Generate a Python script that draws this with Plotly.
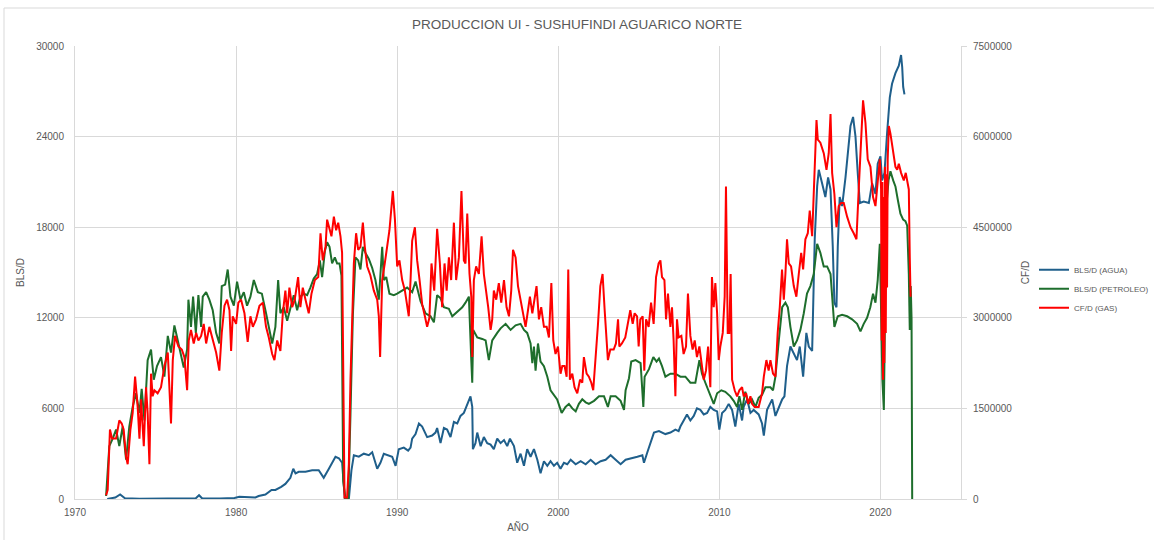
import plotly.graph_objects as go

# ---------------- DATA ----------------
# Water production, BLS/D
agua_year = [1972.0, 1972.5, 1972.8, 1973.1, 1974.0, 1975.0, 1976.0, 1977.0, 1977.5, 1977.7,
             1977.9, 1979.0, 1979.9, 1980.2, 1980.8, 1981.2, 1981.4, 1981.82, 1982.2, 1982.44,
             1982.8, 1983.06, 1983.37, 1983.55, 1983.69, 1983.89, 1984.31, 1984.72, 1985.13, 1985.44,
             1985.76, 1986.0, 1986.17, 1986.38, 1986.58, 1986.75, 1987.0, 1987.16, 1987.31, 1987.62,
             1987.93, 1988.24, 1988.45, 1988.76, 1988.96, 1989.17, 1989.38, 1989.69, 1989.9, 1990.1,
             1990.41, 1990.68, 1990.83, 1990.93, 1991.14, 1991.35, 1991.55, 1991.86, 1992.17, 1992.38,
             1992.48, 1992.69, 1992.9, 1993.1, 1993.31, 1993.52, 1993.73, 1993.93, 1994.14, 1994.35,
             1994.55, 1994.66, 1994.7, 1994.86, 1994.97, 1995.18, 1995.38, 1995.59, 1995.8, 1996.0,
             1996.21, 1996.42, 1996.63, 1996.83, 1997.0, 1997.25, 1997.45, 1997.66, 1997.87, 1998.07,
             1998.28, 1998.49, 1998.7, 1998.9, 1999.11, 1999.32, 1999.52, 1999.73, 1999.93, 2000.14,
             2000.35, 2000.56, 2000.77, 2001.08, 2001.39, 2001.7, 2002.01, 2002.32, 2002.63, 2002.94,
             2003.25, 2003.56, 2003.87, 2004.18, 2004.6, 2004.91, 2005.22, 2005.32, 2005.53, 2005.73,
             2005.94, 2006.25, 2006.65, 2006.96, 2007.27, 2007.47, 2007.58, 2007.89, 2007.99, 2008.2,
             2008.41, 2008.61, 2008.82, 2009.03, 2009.24, 2009.44, 2009.65, 2009.86, 2010.0, 2010.17,
             2010.37, 2010.58, 2010.79, 2010.99, 2011.2, 2011.41, 2011.51, 2011.72, 2011.93, 2012.13,
             2012.44, 2012.65, 2012.76, 2012.96, 2013.28, 2013.48, 2013.69, 2013.9, 2014.04, 2014.2,
             2014.41, 2014.62, 2014.82, 2014.99, 2015.2, 2015.4, 2015.55, 2015.76, 2015.92, 2016.07,
             2016.17, 2016.38, 2016.58, 2016.75, 2016.9, 2017.04, 2017.14, 2017.27, 2017.35, 2017.47,
             2017.62, 2017.83, 2017.97, 2018.14, 2018.3, 2018.45, 2018.59, 2018.72, 2018.96, 2019.28,
             2019.48, 2019.69, 2019.83, 2020.0, 2020.1, 2020.25, 2020.41, 2020.58, 2020.72, 2020.93,
             2021.14, 2021.28, 2021.35, 2021.41, 2021.49]
agua_bpd = [0, 100, 300, 50, 20, 20, 20, 20, 50, 250,
            30, 30, 70, 150, 120, 100, 200, 300, 600, 600,
            800, 1000, 1400, 2000, 1700, 1800, 1800, 1900, 1900, 1400,
            2000, 2500, 2800, 2700, 2400, 0, 0, 1900, 2900, 2800,
            3000, 2900, 3100, 2000, 2400, 3000, 2900, 2800, 2200, 3300,
            3400, 3200, 3400, 4000, 4300, 5000, 4800, 4100, 4200, 4400,
            4700, 3700, 4700, 4600, 4100, 5100, 5000, 5500, 5700, 6300,
            6800, 6100, 3300, 3700, 4400, 3500, 4100, 3700, 3600, 3300,
            4000, 3700, 3900, 3500, 4000, 3500, 2400, 3000, 2200, 3300,
            2800, 3300, 2600, 1700, 2500, 2200, 2500, 2200, 2400, 2000,
            2400, 2300, 2600, 2300, 2500, 2300, 2600, 2300, 2500, 2600,
            2900, 2600, 2300, 2600, 2700, 2800, 2900, 2400, 3100, 3700,
            4400, 4500, 4300, 4400, 4600, 4500, 4800, 5400, 5600, 5200,
            5500, 6000, 5900, 5600, 5700, 6100, 5900, 5800, 4600, 5700,
            5900, 6300, 5900, 4800, 6300, 5200, 6100, 6600, 5700, 5900,
            5600, 5000, 4200, 5900, 6600, 5500, 6100, 6600, 6800, 8800,
            10100, 9600, 9200, 10100, 8100, 11000, 10100, 9800, 17200, 20700,
            21800, 20900, 20000, 21300, 20500, 16700, 13000, 12700, 16700, 20000,
            19400, 21300, 23100, 24700, 25300, 24000, 21600, 19600, 19700, 19600,
            20900, 20200, 22200, 22700, 21100, 21600, 24200, 26600, 27500, 28200,
            28700, 29400, 28600, 27300, 26800]

# Oil production, BLS/D
oil_year = [1971.93, 1972.13, 1972.34, 1972.55, 1972.75, 1972.96, 1973.17, 1973.37, 1973.58, 1973.79,
            1974.0, 1974.14, 1974.31, 1974.51, 1974.72, 1974.89, 1975.09, 1975.34, 1975.55, 1975.76,
            1975.96, 1976.17, 1976.38, 1976.58, 1976.75, 1976.96, 1977.04, 1977.2, 1977.33, 1977.5,
            1977.66, 1977.83, 1977.93, 1978.14, 1978.34, 1978.55, 1978.76, 1978.96, 1979.11, 1979.32,
            1979.48, 1979.65, 1979.86, 1980.06, 1980.27, 1980.48, 1980.68, 1980.89, 1981.1, 1981.35,
            1981.6, 1981.86, 1982.03, 1982.24, 1982.44, 1982.61, 1982.75, 1982.96, 1983.17, 1983.37,
            1983.58, 1983.79, 1983.99, 1984.2, 1984.41, 1984.61, 1984.82, 1985.03, 1985.2, 1985.34,
            1985.51, 1985.65, 1985.8, 1985.96, 1986.13, 1986.27, 1986.42, 1986.54, 1986.65, 1986.79,
            1986.96, 1987.1, 1987.25, 1987.41, 1987.58, 1987.72, 1987.87, 1988.03, 1988.24, 1988.45,
            1988.65, 1988.86, 1989.07, 1989.17, 1989.32, 1989.52, 1989.79, 1990.0, 1990.31, 1990.62,
            1990.93, 1991.14, 1991.45, 1991.76, 1992.07, 1992.28, 1992.48, 1992.69, 1992.9, 1993.21,
            1993.42, 1993.62, 1993.83, 1994.04, 1994.24, 1994.45, 1994.6, 1994.66, 1994.72, 1994.97,
            1995.28, 1995.49, 1995.69, 1995.9, 1996.21, 1996.42, 1996.73, 1997.04, 1997.35, 1997.66,
            1997.87, 1998.07, 1998.28, 1998.39, 1998.49, 1998.59, 1998.74, 1998.9, 1999.11, 1999.32,
            1999.52, 1999.73, 1999.93, 2000.21, 2000.45, 2000.66, 2000.87, 2001.08, 2001.28, 2001.49,
            2001.7, 2001.9, 2002.22, 2002.53, 2002.84, 2003.08, 2003.25, 2003.56, 2003.87, 2004.08,
            2004.18, 2004.39, 2004.53, 2004.8, 2005.11, 2005.28, 2005.36, 2005.63, 2005.9, 2006.1,
            2006.25, 2006.44, 2006.65, 2006.96, 2007.27, 2007.58, 2007.89, 2008.2, 2008.51, 2008.76,
            2008.92, 2009.13, 2009.44, 2009.65, 2009.86, 2010.12, 2010.37, 2010.68, 2010.89, 2011.1,
            2011.24, 2011.41, 2011.61, 2011.82, 2012.03, 2012.24, 2012.44, 2012.65, 2012.86, 2013.17,
            2013.33, 2013.48, 2013.69, 2013.9, 2014.1, 2014.25, 2014.41, 2014.62, 2014.82, 2015.03,
            2015.24, 2015.44, 2015.65, 2015.86, 2016.07, 2016.27, 2016.48, 2016.69, 2016.9, 2017.06,
            2017.14, 2017.35, 2017.62, 2017.93, 2018.24, 2018.55, 2018.76, 2018.96, 2019.17, 2019.37,
            2019.54, 2019.69, 2019.83, 2019.96, 2020.04, 2020.12, 2020.21, 2020.29, 2020.37, 2020.5,
            2020.62, 2020.79, 2020.93, 2021.08, 2021.24, 2021.41, 2021.55, 2021.66, 2021.76, 2021.82,
            2021.88, 2021.93, 2021.97]
oil_bpd = [200, 3500, 4000, 4600, 3500, 4800, 2600, 4800, 6100, 7000,
           5700, 7300, 5200, 9200, 9900, 7900, 8800, 9400, 8100, 10800,
           9700, 11500, 10500, 9400, 8700, 9900, 13200, 11400, 13400, 11000,
           13500, 11400, 13400, 13700, 13200, 12500, 11000, 10300, 14100, 14200,
           15200, 13400, 12800, 14400, 13200, 13700, 12800, 13400, 14500, 13700,
           13600, 12300, 11400, 10300, 11400, 14500, 12300, 12700, 11800, 12600,
           13500, 12500, 13400, 13600, 13500, 14000, 14600, 14900, 15800, 14700,
           16400, 17000, 16700, 15600, 16000, 15600, 15600, 14800, 1200, 0,
           0, 5600, 12200, 16000, 15800, 15200, 16700, 16300, 15900, 15300,
           14500, 13200, 16700, 14500, 14700, 13600, 13500, 13600, 13800, 14000,
           13700, 14400, 13100, 12300, 12100, 11700, 13500, 13300, 12700, 12600,
           12100, 12300, 12500, 12700, 13000, 13400, 9200, 7700, 11200, 10700,
           10600, 10500, 9200, 10500, 11000, 11300, 11600, 11200, 11500, 11600,
           11200, 11000, 10300, 9000, 10100, 8500, 10300, 9100, 8800, 8100,
           7200, 6900, 6600, 5700, 6100, 6300, 6000, 5800, 6300, 6600,
           6400, 6300, 6500, 6800, 6800, 6100, 6800, 6800, 6500, 5900,
           7200, 8000, 9100, 9200, 9000, 6100, 8100, 8600, 9400, 9100,
           9300, 8800, 8100, 8300, 8300, 8100, 8100, 7700, 7700, 9200,
           8300, 7700, 6800, 6300, 7000, 7200, 7100, 6800, 6500, 6100,
           6800, 5900, 7100, 6300, 6600, 6100, 6700, 6900, 7400, 7400,
           7200, 8100, 10500, 12700, 13000, 12700, 11400, 10100, 10500, 11200,
           12300, 13600, 14100, 14900, 16900, 16300, 15400, 15400, 14900, 12100,
           11400, 12100, 12200, 12100, 11900, 11600, 11100, 11600, 12000, 12700,
           13600, 13000, 14500, 16900, 12700, 7900, 5900, 14900, 19400, 21100,
           21700, 21100, 20700, 19800, 18900, 18500, 18400, 18100, 14900, 11200,
           14100, 12000, 0]

# Gas production, thousand CF/D (plotted in CF/D on the right axis)
gas_year = [1971.93, 1972.03, 1972.17, 1972.3, 1972.55, 1972.75, 1972.9, 1973.02, 1973.17, 1973.27,
            1973.44, 1973.58, 1973.73, 1973.89, 1974.0, 1974.1, 1974.27, 1974.41, 1974.51, 1974.62,
            1974.72, 1974.82, 1974.93, 1975.13, 1975.34, 1975.55, 1975.76, 1975.86, 1975.96, 1976.07,
            1976.21, 1976.42, 1976.63, 1976.79, 1976.96, 1977.06, 1977.2, 1977.37, 1977.52, 1977.66,
            1977.83, 1977.99, 1978.14, 1978.34, 1978.55, 1978.76, 1978.96, 1979.11, 1979.28, 1979.44,
            1979.59, 1979.69, 1979.79, 1980.0, 1980.14, 1980.31, 1980.52, 1980.72, 1980.89, 1981.04,
            1981.24, 1981.45, 1981.66, 1981.86, 1982.03, 1982.24, 1982.38, 1982.55, 1982.75, 1982.9,
            1983.06, 1983.17, 1983.31, 1983.48, 1983.64, 1983.85, 1983.99, 1984.14, 1984.31, 1984.51,
            1984.68, 1984.89, 1985.1, 1985.24, 1985.38, 1985.55, 1985.65, 1985.8, 1985.92, 1986.07,
            1986.21, 1986.34, 1986.48, 1986.58, 1986.65, 1986.73, 1986.89, 1987.0, 1987.1, 1987.2,
            1987.31, 1987.45, 1987.58, 1987.72, 1987.87, 1987.99, 1988.14, 1988.34, 1988.55, 1988.76,
            1988.86, 1988.94, 1989.07, 1989.23, 1989.38, 1989.52, 1989.65, 1989.73, 1989.86, 1990.0,
            1990.14, 1990.31, 1990.48, 1990.62, 1990.72, 1990.83, 1990.93, 1991.1, 1991.24, 1991.39,
            1991.55, 1991.72, 1991.86, 1992.0, 1992.13, 1992.3, 1992.48, 1992.65, 1992.79, 1992.94,
            1993.07, 1993.21, 1993.35, 1993.52, 1993.66, 1993.83, 1993.99, 1994.14, 1994.24, 1994.35,
            1994.49, 1994.6, 1994.66, 1994.76, 1994.9, 1995.07, 1995.24, 1995.38, 1995.52, 1995.65,
            1995.8, 1995.9, 1996.0, 1996.15, 1996.31, 1996.46, 1996.63, 1996.79, 1996.94, 1997.08,
            1997.19, 1997.35, 1997.5, 1997.66, 1997.83, 1997.97, 1998.12, 1998.24, 1998.39, 1998.53,
            1998.65, 1998.8, 1998.94, 1999.11, 1999.28, 1999.42, 1999.57, 1999.69, 1999.83, 1999.98,
            2000.14, 2000.25, 2000.39, 2000.52, 2000.62, 2000.72, 2000.87, 2001.01, 2001.18, 2001.35,
            2001.49, 2001.59, 2001.76, 2001.9, 2002.05, 2002.17, 2002.32, 2002.46, 2002.61, 2002.75,
            2002.88, 2003.02, 2003.08, 2003.23, 2003.44, 2003.58, 2003.71, 2003.79, 2003.95, 2004.16,
            2004.37, 2004.47, 2004.62, 2004.74, 2004.89, 2004.99, 2005.09, 2005.24, 2005.34, 2005.45,
            2005.61, 2005.76, 2005.92, 2006.07, 2006.23, 2006.34, 2006.44, 2006.59, 2006.69, 2006.81,
            2006.96, 2007.06, 2007.16, 2007.27, 2007.37, 2007.47, 2007.64, 2007.78, 2007.93, 2008.05,
            2008.2, 2008.34, 2008.47, 2008.61, 2008.76, 2008.88, 2009.03, 2009.17, 2009.3, 2009.44,
            2009.54, 2009.65, 2009.75, 2009.86, 2009.96, 2010.06, 2010.21, 2010.33, 2010.41, 2010.52,
            2010.62, 2010.7, 2010.79, 2010.95, 2011.1, 2011.24, 2011.41, 2011.51, 2011.66, 2011.78,
            2011.93, 2012.03, 2012.19, 2012.44, 2012.65, 2012.76, 2012.92, 2013.06, 2013.17, 2013.33,
            2013.48, 2013.62, 2013.75, 2013.89, 2014.0, 2014.1, 2014.2, 2014.31, 2014.45, 2014.62,
            2014.78, 2014.93, 2015.08, 2015.2, 2015.34, 2015.49, 2015.61, 2015.76, 2015.9, 2016.03,
            2016.11, 2016.27, 2016.48, 2016.65, 2016.79, 2016.9, 2017.0, 2017.14, 2017.27, 2017.41,
            2017.56, 2017.72, 2017.93, 2018.14, 2018.34, 2018.51, 2018.65, 2018.8, 2018.92, 2019.07,
            2019.21, 2019.38, 2019.54, 2019.69, 2019.79, 2019.9, 2019.96, 2020.04, 2020.08, 2020.12,
            2020.16, 2020.2, 2020.24, 2020.28, 2020.33, 2020.37, 2020.41, 2020.45, 2020.52, 2020.62,
            2020.79, 2020.93, 2021.04, 2021.14, 2021.28, 2021.45, 2021.57, 2021.7, 2021.76, 2021.82,
            2021.87]
gas_mcfd = [62, 150, 1150, 1000, 1000, 1300, 1250, 1150, 700, 575,
            1150, 1425, 2025, 1525, 1000, 1650, 875, 1850, 1425, 575,
            2075, 1700, 1800, 1750, 1850, 2200, 2425, 1800, 1250, 2300,
            2700, 2525, 2475, 2350, 1800, 2625, 2800, 2575, 2750, 2625,
            2700, 2900, 2575, 2850, 2625, 2425, 2125, 2750, 3200, 3300,
            3125, 2450, 3025, 2900, 3250, 3300, 3075, 2600, 3025, 2850,
            2975, 3200, 3250, 2850, 2675, 2400, 2300, 2625, 2450, 3075,
            3450, 3075, 3500, 3175, 3300, 3675, 3175, 3500, 3300, 3075,
            3400, 3625, 3675, 4400, 3950, 4175, 4625, 4450, 4350, 4675,
            4450, 4575, 4350, 4075, 2525, 25, 25, 575, 1975, 3075,
            3900, 4400, 4125, 4175, 4575, 4175, 3850, 3700, 3450, 3300,
            3025, 2350, 3625, 3900, 4225, 4450, 4850, 5100, 4625, 3850,
            3950, 3625, 3450, 3175, 3025, 3625, 4275, 4500, 3950, 3625,
            3225, 3025, 2850, 3000, 3900, 3450, 4475, 3900, 3175, 3900,
            3450, 4000, 3625, 4575, 3625, 4000, 5100, 3950, 3900, 4725,
            3725, 3350, 2350, 3625, 3850, 3725, 4350, 3725, 3450, 3175,
            2800, 2975, 3450, 3300, 3575, 3250, 3625, 3175, 3025, 3450,
            4125, 4000, 3525, 3300, 3075, 2850, 3125, 3350, 3075, 3300,
            3525, 2975, 3175, 2850, 2850, 2675, 3575, 2625, 2400, 2525,
            2075, 2200, 2200, 2025, 3800, 1975, 2075, 1850, 1750, 1975,
            1925, 2350, 2075, 2025, 1925, 1800, 2300, 2875, 3525, 3725,
            3125, 2525, 2300, 2475, 2475, 2575, 2975, 2525, 2575, 2675,
            2975, 3125, 2900, 3075, 3025, 2525, 2975, 3025, 2125, 2975,
            2850, 3250, 2900, 3675, 3900, 3950, 3675, 3625, 2975, 3400,
            2850, 3175, 2625, 1700, 2975, 2675, 2700, 2400, 2525, 3400,
            2700, 2475, 2625, 2350, 2525, 2250, 1975, 2125, 2525, 1850,
            3675, 3175, 3575, 3075, 2300, 2525, 2750, 3350, 5175, 2750,
            2750, 3725, 1975, 1800, 1700, 1800, 1850, 1700, 1750, 1575,
            1700, 1575, 1525, 1525, 1750, 2025, 2300, 2125, 2300, 2075,
            2025, 2750, 3175, 3800, 3300, 3725, 4300, 3900, 3850, 3525,
            3350, 3725, 4075, 3800, 4300, 4400, 4775, 4350, 5500, 6275,
            5950, 5900, 5725, 5450, 5725, 6375, 5400, 5050, 4500, 4850,
            4900, 4900, 4675, 4500, 4400, 4300, 5125, 6100, 6600, 6225,
            5625, 5500, 5000, 4850, 5125, 5500, 5625, 5125, 2625, 5250,
            1975, 5000, 2250, 5500, 2750, 5375, 3500, 5625, 6175, 6050,
            5775, 5500, 5450, 5550, 5400, 5275, 5400, 5225, 5125, 4000,
            3350]

gas_cfd = [v * 1000 for v in gas_mcfd]

x_ticks = [1970, 1980, 1990, 2000, 2010, 2020]
series_names = ["BLS/D (AGUA)", "BLS/D (PETROLEO)", "CF/D (GAS)"]

# ---------------- FIGURE ----------------
FONT = "Liberation Sans Narrow, Arial Narrow, Liberation Sans, Arial, sans-serif"
TXT = "#595959"
GRID = "#d9d9d9"

fig = go.Figure()
fig.add_trace(go.Scatter(x=agua_year, y=agua_bpd, name=series_names[0], mode="lines",
                         line=dict(color="#1f5f8b", width=2), yaxis="y"))
fig.add_trace(go.Scatter(x=oil_year, y=oil_bpd, name=series_names[1], mode="lines",
                         line=dict(color="#1e6e2c", width=2), yaxis="y"))
fig.add_trace(go.Scatter(x=gas_year, y=gas_cfd, name=series_names[2], mode="lines",
                         line=dict(color="#ff0000", width=2), yaxis="y2"))

fig.update_layout(
    width=1154, height=540,
    margin=dict(l=75, r=193, t=46, b=41, autoexpand=False),
    paper_bgcolor="white", plot_bgcolor="white",
    font=dict(family=FONT, size=10, color=TXT),
    title=dict(text="PRODUCCION UI - SUSHUFINDI AGUARICO NORTE", x=0.5, xref="container",
               y=1 - 24 / 540, yref="container", xanchor="center", yanchor="middle",
               font=dict(family=FONT, size=13.5, color=TXT)),
    xaxis=dict(range=[1970, 2025], tickvals=x_ticks, showgrid=True, gridcolor=GRID, gridwidth=1,
               showline=True, linecolor=GRID, linewidth=1, zeroline=False, ticks="",
               automargin=False,
               tickfont=dict(size=10, color=TXT), ticklabelstandoff=4,
               title=dict(text="AÑO", font=dict(size=10, color=TXT), standoff=6)),
    yaxis=dict(range=[0, 30000], dtick=6000, tickformat="d", showgrid=True, gridcolor=GRID,
               gridwidth=1, showline=True, linecolor=GRID, linewidth=1, zeroline=False, ticks="",
               automargin=False,
               tickfont=dict(size=10, color=TXT), ticklabelstandoff=8,
               title=dict(text="BLS/D", font=dict(size=10, color=TXT), standoff=9)),
    yaxis2=dict(range=[0, 7500000], dtick=1500000, tickformat="d", overlaying="y", side="right",
                showgrid=False, showline=True, linecolor=GRID, linewidth=1, zeroline=False,
                ticks="outside", ticklen=5, tickcolor=GRID, automargin=False,
                tickfont=dict(size=10, color=TXT), ticklabelstandoff=4,
                title=dict(text="CF/D", font=dict(size=10, color=TXT), standoff=10)),
    legend=dict(x=(1034 - 75) / 886, y=0.464, xanchor="left", yanchor="middle",
                xref="paper", yref="paper",
                font=dict(size=8, color=TXT), bgcolor="rgba(0,0,0,0)", tracegroupgap=0,
                itemwidth=30),
    showlegend=True,
    shapes=[dict(type="rect", xref="paper", yref="paper",
                 x0=(4 - 75) / 886, x1=(1170 - 75) / 886,
                 y0=(499 - 560) / 453, y1=(499 - 8) / 453,
                 line=dict(color=GRID, width=1), fillcolor="rgba(0,0,0,0)", layer="below")],
)

fig.write_html("out.html", config={"displayModeBar": False},
               post_script="document.body.style.margin='0';document.body.style.overflow='hidden';")
